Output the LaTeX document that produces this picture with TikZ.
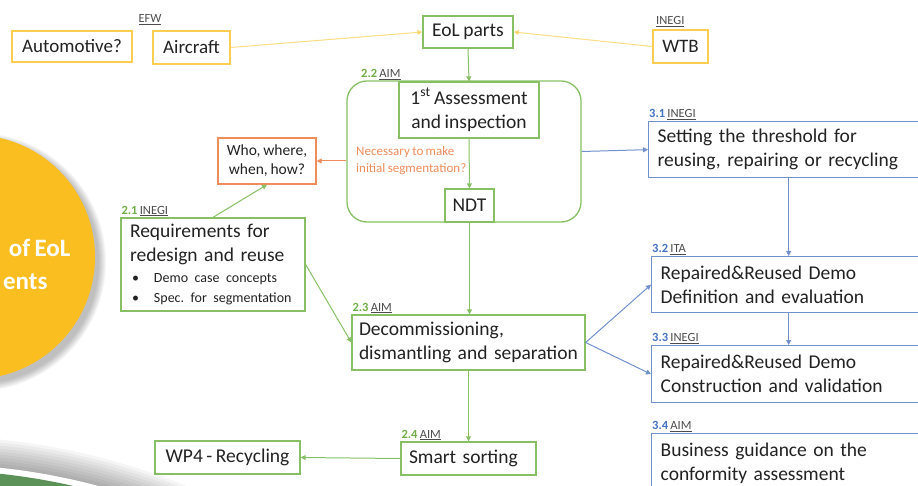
\documentclass[tikz,border=0pt]{standalone}
\usepackage{fontspec}
\setmainfont{Carlito}[WordSpace=0.8]
\usepackage{xcolor}
\usetikzlibrary{arrows.meta,positioning}
\definecolor{ylwcol}{RGB}{250,196,50}
\definecolor{grncol}{RGB}{135,192,100}
\definecolor{blucol}{RGB}{112,145,205}
\definecolor{orgcol}{RGB}{238,140,90}
\definecolor{numgrn}{RGB}{112,173,71}
\definecolor{numblu}{RGB}{68,114,196}
\definecolor{txtcol}{RGB}{34,34,34}
\definecolor{circcol}{RGB}{250,190,32}
\definecolor{leafcol}{RGB}{92,145,88}
\newcommand{\gnum}[2]{{\color{numgrn}\textbf{#1}}~{\color{gray!60!black}\underline{#2}}}
\newcommand{\bnum}[2]{{\color{numblu}\textbf{#1}}~{\color{gray!60!black}\underline{#2}}}
\newcommand{\tbul}{\makebox[24pt][l]{\hspace{2pt}\textbullet}}
\frenchspacing
\hyphenpenalty=10000

\begin{document}
\begin{tikzpicture}[
  x=1pt, y=-1pt,
  font=\fontsize{19.5}{24}\selectfont, text=txtcol,
  box/.style={draw, line width=1.3pt, inner sep=0pt, align=center},
  ybox/.style={box, draw=ylwcol!85, font=\fontsize{19}{23}\selectfont},
  gbox/.style={box, draw=grncol},
  bbox/.style={box, draw=blucol, anchor=north west, align=left, inner xsep=9pt},
  obox/.style={box, draw=orgcol},
  flow/.style={-{Triangle[length=5pt,width=5pt]}, line width=1pt},
  gflow/.style={flow, draw=grncol},
  bflow/.style={flow, draw=blucol},
  yflow/.style={flow, draw=ylwcol!60, -{Triangle[length=5pt,width=5pt,fill=ylwcol]}},
  lbl/.style={font=\fontsize{12.5}{15}\selectfont, anchor=south west, inner sep=1pt},
  ]
  \clip (0,0) rectangle (918,486);
  % background shapes on the left
  \foreach \r in {1,...,8}
    \fill[black, opacity=0.035] (-23,262) circle[radius=121+\r];
  \fill[circcol] (-27,257) circle[radius=122];
  \node[anchor=east, text=white, font=\fontsize{25}{30}\selectfont\bfseries] (circa) at (74,248) {of EoL};
  \node[anchor=east, text=white, font=\fontsize{25}{30}\selectfont\bfseries] (circb) at (51,282) {ents};
  \foreach \r in {1,...,10}
    \fill[black, opacity=0.04] (-70,1116) circle[radius=650+3*\r];
  \fill[white] (-70,1116) circle[radius=652];
  \fill[leafcol] (-70,1116) circle[radius=646];

  % input parts
  \node[ybox, minimum width=120pt, minimum height=31pt] (auto) at (72,46.5) {Automotive?};
  \node[ybox, minimum width=77pt, minimum height=33pt] (air) at (191.5,47.5) {Aircraft};
  \node[gbox, minimum width=90pt, minimum height=32pt] (eol) at (468,32) {EoL parts};
  \node[ybox, minimum width=55pt, minimum height=33pt] (wtb) at (680.5,46.5) {WTB};
  \draw[yflow] (air.east) -- (eol.west);
  \draw[yflow] (wtb.west) -- (eol.east);
  \node[lbl, text=gray!60!black, anchor=south] at (150,26) {\underline{EFW}};
  \node[lbl, text=gray!60!black] at (655,28) {\underline{INEGI}};

  % WP2
  \node[gbox, rounded corners=20pt, minimum width=234pt, minimum height=141pt] (cont) at (464,151.5) {};
  \node[gbox, fill=white, minimum width=140pt, minimum height=56pt] (assess) at (469,110) {1\textsuperscript{st} Assessment\\ and inspection};
  \node[gbox, fill=white, minimum width=49pt, minimum height=33pt] (ndt) at (469.5,205.5) {NDT};
  \node[text=orgcol, align=left, anchor=north west, inner sep=0pt, font=\fontsize{13}{17}\selectfont] (nec) at (356,146) {Necessary to make\\ initial segmentation?};
  \node[obox, minimum width=98pt, minimum height=46pt, font=\fontsize{15.5}{19}\selectfont] (who) at (267,161) {Who, where,\\ when, how?};
  \node[gbox, minimum width=184pt, minimum height=93pt, align=left, text width=166pt] (req) at (213,264.5)
    {Requirements for\\ redesign and reuse\\[-3pt]
     {\fontsize{14}{18}\selectfont\tbul Demo case concepts}\\[-4pt]
     {\fontsize{14}{18}\selectfont\tbul Spec. for segmentation}};
  \node[gbox, minimum width=233pt, minimum height=55pt, align=left, inner xsep=7pt, text width=219pt] (decom) at (468.5,342.5) {Decommissioning,\\ dismantling and separation};
  \node[gbox, minimum width=135pt, minimum height=33pt, align=left, text width=119pt] (smart) at (468.5,458.5) {Smart sorting};
  \node[gbox, minimum width=145pt, minimum height=33pt] (wp4) at (227.5,457.5) {WP4 - Recycling};
  \draw[gflow] (eol.south) -- (assess.north);
  \draw[gflow] (assess.south) -- (ndt.north);
  \draw[gflow] (ndt.south) -- (ndt.south |- decom.north);
  \draw[flow, draw=orgcol] (cont.west |- who.east) -- (who.east);
  \draw[gflow] (req.north) -- (who.south);
  \draw[gflow] (req.east) -- (decom.west);
  \draw[gflow] (decom.south) -- (smart.north);
  \draw[gflow] (smart.west) -- (wp4.east);
  \node[lbl] at (360,81) {\gnum{2.2}{AIM}};
  \node[lbl] at (req.north west) {\gnum{2.1}{INEGI}};
  \node[lbl] at (decom.north west) {\gnum{2.3}{AIM}};
  \node[lbl] at (smart.north west) {\gnum{2.4}{AIM}};

  % WP3
  \node[bbox, minimum height=56pt, text width=262pt] (s31) at (648,121) {Setting the threshold for\\ reusing, repairing or recycling};
  \node[bbox, minimum height=56pt, text width=256pt] (s32) at (651,256) {Repaired\&Reused Demo\\ Definition and evaluation};
  \node[bbox, minimum height=57pt, text width=256pt] (s33) at (651,345) {Repaired\&Reused Demo\\ Construction and validation};
  \node[bbox, minimum height=60pt, text width=256pt] (s34) at (651,433) {Business guidance on the\\ conformity assessment};
  \draw[bflow] (cont.east) -- (s31.west);
  \draw[bflow] (s31.south) -- (s32.north);
  \draw[bflow] (s32.south) -- (s33.north);
  \draw[bflow] (decom.east) -- (s32.west);
  \draw[bflow] (decom.east) -- (s33.west);
  \node[lbl] at (s31.north west) {\bnum{3.1}{INEGI}};
  \node[lbl] at (s32.north west) {\bnum{3.2}{ITA}};
  \node[lbl] at (s33.north west) {\bnum{3.3}{INEGI}};
  \node[lbl] at (s34.north west) {\bnum{3.4}{AIM}};
\end{tikzpicture}
\end{document}
